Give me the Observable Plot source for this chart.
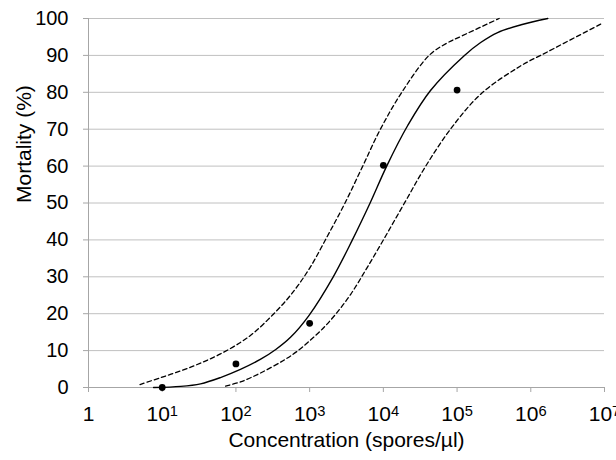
<!DOCTYPE html>
<html>
<head>
<meta charset="utf-8">
<script src="https://cdn.jsdelivr.net/npm/d3@7"></script>
<script src="https://cdn.jsdelivr.net/npm/@observablehq/plot@0.6"></script>
<style>
  html, body { margin: 0; padding: 0; background: #fff; }
</style>
</head>
<body>
<div id="chart"></div>
<script>
// Fitted curve (solid)
const fitConc = [7.64, 17.8, 33.1, 61.7, 115, 214, 347, 550, 977, 2090, 3800, 6610, 11100, 21400, 43600, 126000, 209000, 355000, 741000, 1700000];
const fitMort = [0, 0.3, 1.0, 2.7, 4.9, 7.6, 10.3, 13.6, 19.5, 30, 40, 50, 60, 71, 80.5, 90, 93.5, 96.2, 98.3, 100];

// Upper confidence band (dashed, left)
const upperConc = [5.0, 9.3, 17.8, 33.1, 61.7, 115, 174, 309, 550, 977, 1740, 3020, 5250, 9120, 17800, 41700, 70800, 117000, 372000];
const upperMort = [0.8, 2.6, 4.5, 6.6, 9.1, 12.2, 14.8, 19.5, 25, 32, 41, 50, 60, 70, 80, 90, 93.2, 95.3, 100];

// Lower confidence band (dashed, right)
const lowerConc = [72.4, 115, 214, 447, 676, 1020, 1480, 2240, 3590, 6030, 10700, 20000, 37600, 81300, 209000, 708000, 1700000, 8910000];
const lowerMort = [0.4, 1.5, 3.9, 7.4, 9.8, 12.8, 15.8, 19.8, 25.2, 32.5, 41, 50.5, 60, 70, 79.5, 87, 91, 98.5];

// Observed points
const obsConc = [10, 100, 1000, 10000, 100000];
const obsMort = [0, 6.4, 17.4, 60.2, 80.6];

// Axes
const xTicks = [1, 10, 100, 1000, 10000, 100000, 1000000, 10000000];
const xTickLabels = ["1", "10^1", "10^2", "10^3", "10^4", "10^5", "10^6", "10^7"];
const yTicks = [0, 10, 20, 30, 40, 50, 60, 70, 80, 90, 100];
const xTitle = "Concentration (spores/µl)";
const yTitle = "Mortality (%)";

const toRows = (xs, ys) => xs.map((x, i) => ({x, y: ys[i]}));
const fit = toRows(fitConc, fitMort);
const upper = toRows(upperConc, upperMort);
const lower = toRows(lowerConc, lowerMort);
const obs = toRows(obsConc, obsMort);

const chart = Plot.plot({
  width: 616,
  height: 460,
  marginLeft: 88,
  marginRight: 12,
  marginTop: 18,
  marginBottom: 73,
  style: {fontFamily: "'Liberation Sans', Arial, sans-serif", fontSize: "20px", color: "#000", background: "#fff", overflow: "visible"},
  x: {type: "log", domain: [1, 1e7]},
  y: {domain: [0, 100]},
  marks: [
    Plot.gridY(yTicks, {stroke: "#c0c0c0", strokeOpacity: 1, strokeWidth: 1}),
    Plot.ruleX([1], {stroke: "#a6a6a6"}),
    Plot.ruleY([0], {stroke: "#a6a6a6"}),
    Plot.axisY({ticks: yTicks, tickSize: 5, tickPadding: 15, stroke: "#a6a6a6", label: null, fontSize: 20}),
    Plot.axisX({ticks: xTicks, tickSize: 5, tickPadding: 14, stroke: "#a6a6a6", label: null, fontSize: 21,
      tickFormat: d => xTickLabels[xTicks.indexOf(d)]}),
    Plot.line(upper, {x: "x", y: "y", stroke: "#000", strokeWidth: 1.3, strokeDasharray: "4.5,3", curve: "catmull-rom"}),
    Plot.line(lower, {x: "x", y: "y", stroke: "#000", strokeWidth: 1.3, strokeDasharray: "4.5,3", curve: "catmull-rom"}),
    Plot.line(fit, {x: "x", y: "y", stroke: "#000", strokeWidth: 1.4, curve: "catmull-rom"}),
    Plot.dot(obs, {x: "x", y: "y", r: 3.4, fill: "#000", stroke: "none"}),
    Plot.text([xTitle], {text: d => d, frameAnchor: "bottom", dy: 53, fontSize: 21, lineAnchor: "middle"}),
    Plot.text([yTitle], {text: d => d, frameAnchor: "left", dx: -64, rotate: -90, fontSize: 21, lineAnchor: "middle"})
  ]
});

// Render exponents as real superscripts
const ns = "http://www.w3.org/2000/svg";
d3.select(chart).selectAll('g[aria-label="x-axis tick label"] text').each(function() {
  const t = this.textContent;
  if (t.includes("^")) {
    const [base, exp] = t.split("^");
    this.textContent = base;
    const ts = document.createElementNS(ns, "tspan");
    ts.setAttribute("dy", "-0.36em");
    ts.setAttribute("font-size", "0.7em");
    ts.textContent = exp;
    this.appendChild(ts);
  }
});

document.getElementById("chart").appendChild(chart);
</script>
</body>
</html>
